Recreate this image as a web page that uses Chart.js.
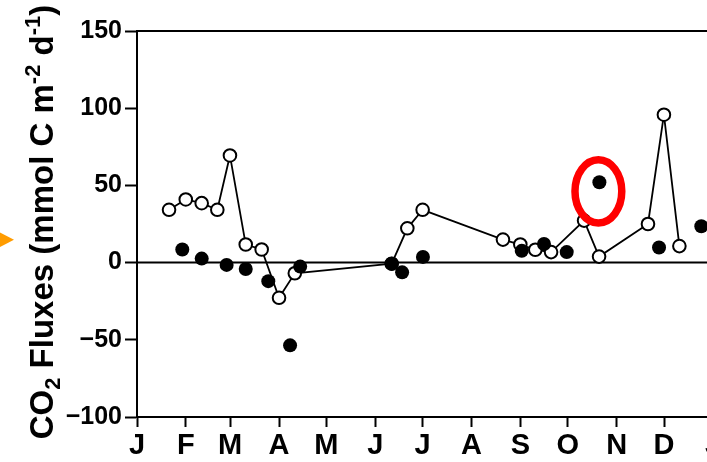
<!DOCTYPE html>
<html>
<head>
<meta charset="utf-8">
<script src="https://cdn.jsdelivr.net/npm/chart.js@4"></script>
<style>
  html, body { margin: 0; padding: 0; overflow: hidden; background: #fff; }
  canvas { display: block; }
</style>
</head>
<body>
<canvas id="c" width="740" height="462"></canvas>
<script>
// ---- data (day of year, CO2 flux) ----
const monthDays   = [0, 31, 59, 90, 120, 151, 181, 212, 243, 273, 304, 334, 365];
const monthLabels = ['J','F','M','A','M','J','J','A','S','O','N','D','J'];
const yTicks      = [-100, -50, 0, 50, 100, 150];

const openDays = [20.3, 30.9, 41, 50.9, 58.9, 68.9, 79, 90, 100, 161.4, 171.3, 181, 231.9, 242.9, 252.4, 262.4, 283.3, 292.8, 323.8, 333.9, 343.7];
const openFlux = [34.2, 40.9, 38.5, 34.2, 69.4, 11.7, 8.5, -22.8, -6.9, -0.7, 22.2, 34.2, 14.9, 11.7, 8.3, 6.8, 27.2, 3.9, 25.0, 95.8, 10.7];

const filledDays = [28.7, 41, 56.8, 68.9, 83.2, 97, 103.4, 161.4, 168, 181.2, 243.8, 257.9, 272.3, 293, 330.8, 357.6];
const filledFlux = [8.5, 2.6, -1.5, -4.1, -12, -53.6, -2.6, -0.7, -6.3, 3.7, 7.6, 12.0, 6.8, 52.0, 9.8, 23.5];

const highlightIndex = 13; // filled point circled in red

const titlePieces = [
  {t: 'CO', k: 0}, {t: '2', k: -1}, {t: ' Fluxes (mmol C m', k: 0},
  {t: '-2', k: 1}, {t: ' d', k: 0}, {t: '-1', k: 1}, {t: ')', k: 0}
];

const FONT = '"Liberation Sans", Arial, Helvetica, sans-serif';

const decor = {
  id: 'decor',
  beforeDatasetsDraw(chart) {
    const {ctx, chartArea: a, scales: {x, y}} = chart;
    ctx.save();
    ctx.strokeStyle = '#000';
    ctx.lineWidth = 2;
    const y0 = y.getPixelForValue(0);
    ctx.beginPath(); ctx.moveTo(a.left, y0); ctx.lineTo(a.right, y0); ctx.stroke();
    ctx.beginPath(); ctx.moveTo(a.left - 1, a.top); ctx.lineTo(a.right, a.top); ctx.stroke();
    ctx.restore();
  },
  afterDatasetsDraw(chart) {
    const {ctx, scales: {x, y}} = chart;
    const cx = x.getPixelForValue(filledDays[highlightIndex]) - 1;
    const cy = y.getPixelForValue(filledFlux[highlightIndex]) + 9;
    ctx.save();
    ctx.strokeStyle = '#ff0000';
    ctx.lineWidth = 7.5;
    ctx.beginPath();
    ctx.ellipse(cx, cy, 23.4, 31.6, 0, 0, Math.PI * 2);
    ctx.stroke();
    ctx.restore();
  },
  afterDraw(chart) {
    const {ctx, chartArea: a} = chart;
    ctx.save();
    ctx.fillStyle = '#ff9c00';
    ctx.beginPath();
    ctx.moveTo(0, 232.5); ctx.lineTo(14, 239.8); ctx.lineTo(0, 247); ctx.closePath();
    ctx.fill();
    const big = 33, small = 22;
    const cy = (a.top + a.bottom) / 2 - 2;
    ctx.translate(53, cy);
    ctx.rotate(-Math.PI / 2);
    ctx.fillStyle = '#000';
    ctx.textBaseline = 'alphabetic';
    let total = 0;
    titlePieces.forEach(p => {
      ctx.font = 'bold ' + (p.k === 0 ? big : small) + 'px ' + FONT;
      p.w = ctx.measureText(p.t).width;
      total += p.w;
    });
    let px = -total / 2;
    titlePieces.forEach(p => {
      ctx.font = 'bold ' + (p.k === 0 ? big : small) + 'px ' + FONT;
      const dy = p.k === -1 ? 7 : (p.k === 1 ? -13 : 0);
      ctx.fillText(p.t, px, dy);
      px += p.w;
    });
    ctx.restore();
  }
};

new Chart(document.getElementById('c'), {
  type: 'line',
  data: {
    datasets: [
      {
        label: 'filled',
        data: filledDays.map((d, i) => ({x: d, y: filledFlux[i]})),
        showLine: false,
        pointRadius: 7,
        pointBackgroundColor: '#000',
        pointBorderColor: '#000',
        pointBorderWidth: 0,
        order: 0
      },
      {
        label: 'open',
        data: openDays.map((d, i) => ({x: d, y: openFlux[i]})),
        showLine: true,
        borderColor: '#000',
        borderWidth: 1.8,
        tension: 0,
        pointRadius: 6.3,
        pointBackgroundColor: '#fff',
        pointBorderColor: '#000',
        pointBorderWidth: 2,
        order: 1
      }
    ]
  },
  options: {
    responsive: false,
    animation: false,
    clip: false,
    layout: { padding: { top: 31, right: 27, bottom: 0, left: 0 } },
    plugins: { legend: { display: false }, tooltip: { enabled: false } },
    scales: {
      x: {
        type: 'linear',
        min: 0, max: 365,
        afterBuildTicks(s) { s.ticks = monthDays.map(v => ({value: v})); },
        afterFit(s) { s.height = 45; },
        ticks: {
          autoSkip: false, maxRotation: 0, padding: 2,
          color: '#000',
          font: { family: FONT, size: 29, weight: 'bold' },
          callback: v => monthLabels[monthDays.indexOf(v)]
        },
        grid: { drawOnChartArea: false, drawTicks: true, tickLength: 10, tickWidth: 2, tickColor: '#000' },
        border: { display: true, color: '#000', width: 2 }
      },
      y: {
        type: 'linear',
        min: -100, max: 150,
        afterBuildTicks(s) { s.ticks = yTicks.map(v => ({value: v})); },
        afterFit(s) { s.width = 137; },
        ticks: {
          padding: 3, color: '#000',
          font: { family: FONT, size: 25, weight: 'bold' },
          callback: v => (v < 0 ? '\u2212' + Math.abs(v) : String(v))
        },
        grid: { drawOnChartArea: false, drawTicks: true, tickLength: 12, tickWidth: 2, tickColor: '#000' },
        border: { display: true, color: '#000', width: 2 }
      }
    }
  },
  plugins: [decor]
});
</script>
</body>
</html>
